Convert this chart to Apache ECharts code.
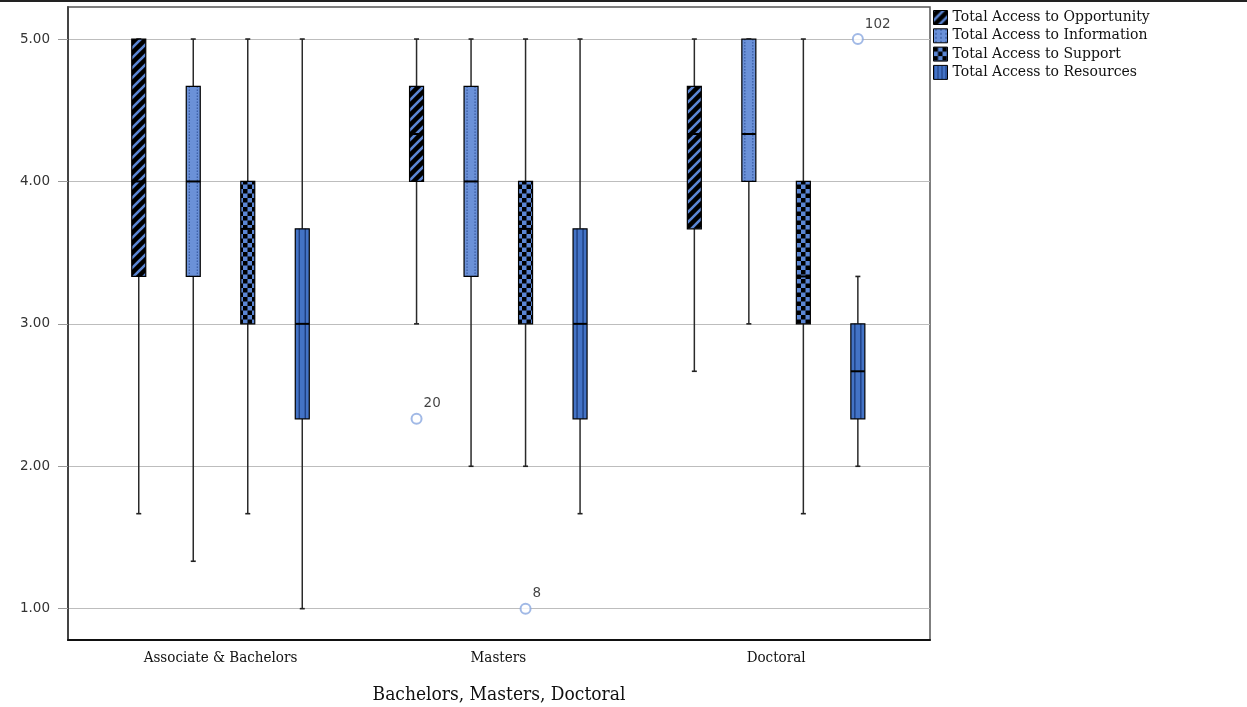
<!DOCTYPE html>
<html>
<head>
<meta charset="utf-8">
<script src="https://cdn.jsdelivr.net/npm/echarts@6/dist/echarts.min.js"></script>
<style>
  html, body { margin: 0; padding: 0; background: #fff; }
  #chart { width: 1247px; height: 707px; }
</style>
</head>
<body>
<div id="chart"></div>
<script>
// Degree groups along the x axis
const categories = ['Associate & Bachelors', 'Masters', 'Doctoral'];
const seriesNames = [
  'Total Access to Opportunity',
  'Total Access to Information',
  'Total Access to Support',
  'Total Access to Resources'
];
const yTicks = [1, 2, 3, 4, 5];

// Five-number summaries per group: [low whisker, Q1, median, Q3, high whisker]
const opportunity = [
  [1.667, 3.333, 4.000, 5.000, 5.000],
  [3.000, 4.000, 4.333, 4.667, 5.000],
  [2.667, 3.667, 4.333, 4.667, 5.000]
];
const information = [
  [1.333, 3.333, 4.000, 4.667, 5.000],
  [2.000, 3.333, 4.000, 4.667, 5.000],
  [3.000, 4.000, 4.333, 5.000, 5.000]
];
const support = [
  [1.667, 3.000, 3.667, 4.000, 5.000],
  [2.000, 3.000, 3.667, 4.000, 5.000],
  [1.667, 3.000, 3.333, 4.000, 5.000]
];
const resources = [
  [1.000, 2.333, 3.000, 3.667, 5.000],
  [1.667, 2.333, 3.000, 3.667, 5.000],
  [2.000, 2.333, 2.667, 3.000, 3.333]
];

// Outlying cases: series index, group index, value, case label
const outlierSeries = [0, 2, 3];
const outlierGroups = [1, 1, 2];
const outlierValues = [2.333, 1.000, 5.000];
const outlierLabels = ['20', '8', '102'];

// ---- fill patterns ----
const BLUE = '#5b86d4';
function makeCanvas(w, h, draw) {
  const c = document.createElement('canvas');
  c.width = w; c.height = h;
  draw(c.getContext('2d'));
  return c;
}
const stripeCanvas = makeCanvas(10, 10, ctx => {
  ctx.fillStyle = '#000'; ctx.fillRect(0, 0, 10, 10);
  ctx.strokeStyle = BLUE; ctx.lineWidth = 2.6;
  ctx.beginPath();
  ctx.moveTo(0, 10); ctx.lineTo(10, 0);
  ctx.moveTo(-2, 2); ctx.lineTo(2, -2);
  ctx.moveTo(8, 12); ctx.lineTo(12, 8);
  ctx.stroke();
});
const checkerCanvas = makeCanvas(9, 9, ctx => {
  ctx.fillStyle = BLUE; ctx.fillRect(0, 0, 9, 9);
  ctx.fillStyle = '#000';
  ctx.fillRect(0, 0, 4.5, 4.5); ctx.fillRect(4.5, 4.5, 4.5, 4.5);
});
const dotLegendCanvas = makeCanvas(5, 4, ctx => {
  ctx.fillStyle = '#6b91d8'; ctx.fillRect(0, 0, 5, 4);
  ctx.fillStyle = '#2d4f95'; ctx.fillRect(2, 0, 1, 2);
});
const lineLegendCanvas = makeCanvas(4, 4, ctx => {
  ctx.fillStyle = '#4373c6'; ctx.fillRect(0, 0, 4, 4);
  ctx.fillStyle = '#1b3a7a'; ctx.fillRect(0, 0, 1, 4);
});

const styles = [
  { fill: { image: stripeCanvas, repeat: 'repeat' }, legendFill: { image: stripeCanvas, repeat: 'repeat' }, inner: null },
  { fill: '#6b91d8', legendFill: { image: dotLegendCanvas, repeat: 'repeat' }, inner: { off: 4, color: '#2d4f95', dash: [1.5, 1.5], width: 1 } },
  { fill: { image: checkerCanvas, repeat: 'repeat' }, legendFill: { image: checkerCanvas, repeat: 'repeat' }, inner: null },
  { fill: '#4373c6', legendFill: { image: lineLegendCanvas, repeat: 'repeat' }, inner: { off: 3, color: '#1b3a7a', dash: null, width: 1.3 } }
];
const allData = [opportunity, information, support, resources];

// Layout within a group, as fractions of one group unit on the x axis
const SLOT_STEP = 0.1962;
const BOX_W = 0.0504;
const CAP_W = 0.018;

function boxRenderer(slot) {
  const st = styles[slot];
  return function (params, api) {
    const g = api.value(0);
    const lo = api.value(1), q1 = api.value(2), med = api.value(3), q3 = api.value(4), hi = api.value(5);
    const unit = api.size([1, 0])[0];
    const cx = api.coord([g, med])[0] + (slot - 1.5) * unit * SLOT_STEP;
    const w = unit * BOX_W;
    const cw = unit * CAP_W;
    const yLo = api.coord([g, lo])[1];
    const yQ1 = api.coord([g, q1])[1];
    const yMed = api.coord([g, med])[1];
    const yQ3 = api.coord([g, q3])[1];
    const yHi = api.coord([g, hi])[1];
    const wStyle = { stroke: '#2a2a2a', lineWidth: 1.5 };
    const children = [
      { type: 'line', shape: { x1: cx, y1: yLo, x2: cx, y2: yQ1 }, style: wStyle },
      { type: 'line', shape: { x1: cx, y1: yQ3, x2: cx, y2: yHi }, style: wStyle },
      { type: 'line', shape: { x1: cx - cw / 2, y1: yLo, x2: cx + cw / 2, y2: yLo }, style: { stroke: '#222', lineWidth: 1.6 } },
      { type: 'line', shape: { x1: cx - cw / 2, y1: yHi, x2: cx + cw / 2, y2: yHi }, style: { stroke: '#222', lineWidth: 1.6 } },
      { type: 'rect', shape: { x: cx - w / 2, y: yQ3, width: w, height: yQ1 - yQ3 }, style: { fill: st.fill, stroke: 'none' } }
    ];
    if (st.inner) {
      [-1, 1].forEach(d => {
        children.push({
          type: 'line',
          shape: { x1: cx + d * st.inner.off, y1: yQ3, x2: cx + d * st.inner.off, y2: yQ1 },
          style: { stroke: st.inner.color, lineWidth: st.inner.width, lineDash: st.inner.dash }
        });
      });
    }
    children.push(
      { type: 'rect', shape: { x: cx - w / 2, y: yQ3, width: w, height: yQ1 - yQ3 }, style: { fill: 'none', stroke: '#000', lineWidth: 1.2 } },
      { type: 'line', shape: { x1: cx - w / 2, y1: yMed, x2: cx + w / 2, y2: yMed }, style: { stroke: '#000', lineWidth: 2 } }
    );
    return { type: 'group', children };
  };
}

const boxSeries = allData.map((rows, slot) => ({
  name: seriesNames[slot],
  type: 'custom',
  renderItem: boxRenderer(slot),
  encode: { x: 0, y: [1, 2, 3, 4, 5] },
  itemStyle: { color: styles[slot].legendFill },
  data: rows.map((r, g) => [g].concat(r)),
  z: 3
}));

const outlierData = outlierValues.map((v, i) => ({
  value: [outlierGroups[i] + (outlierSeries[i] - 1.5) * SLOT_STEP, v],
  label: { formatter: outlierLabels[i] }
}));

const chart = echarts.init(document.getElementById('chart'), null, { renderer: 'canvas' });
chart.setOption({
  animation: false,
  backgroundColor: '#fff',
  grid: {
    show: true, left: 68, top: 7, right: 317, bottom: 67,
    outerBoundsMode: 'none', containLabel: false,
    borderColor: '#555', borderWidth: 1.5, backgroundColor: 'transparent'
  },
  legend: {
    orient: 'vertical', left: 933, top: 10, padding: 0,
    itemWidth: 14, itemHeight: 14, itemGap: 3.3,
    icon: 'rect',
    selectedMode: false,
    textStyle: { fontFamily: 'DejaVu Serif', fontSize: 14, lineHeight: 14, color: '#111' },
    data: seriesNames.map((n, i) => ({
      name: n,
      itemStyle: { color: styles[i].legendFill, borderColor: '#000', borderWidth: 1 }
    }))
  },
  xAxis: {
    type: 'value',
    min: -0.549, max: 2.554,
    splitLine: { show: false },
    axisTick: { show: false },
    axisLine: { show: true, onZero: false, lineStyle: { color: '#111', width: 2 } },
    axisLabel: {
      customValues: [0, 1, 2],
      formatter: v => categories[Math.round(v)],
      fontFamily: 'DejaVu Serif Condensed', fontSize: 15, color: '#111', margin: 11
    },
    name: 'Bachelors, Masters, Doctoral',
    nameLocation: 'middle', nameGap: 46,
    nameTextStyle: { fontFamily: 'DejaVu Serif Condensed', fontSize: 19, color: '#111' }
  },
  yAxis: {
    type: 'value',
    min: 0.78, max: 5.225,
    axisLine: { show: true, onZero: false, lineStyle: { color: '#444', width: 2 } },
    axisTick: { show: true, customValues: yTicks, length: 10, lineStyle: { color: '#999' } },
    axisLabel: {
      customValues: yTicks,
      formatter: v => v.toFixed(2),
      fontFamily: 'DejaVu Sans', fontSize: 13.5, color: '#333', margin: 18
    },
    splitLine: { show: true, lineStyle: { color: '#bdbdbd', width: 1 } }
  },
  series: boxSeries.concat([{
    name: 'outliers',
    type: 'scatter',
    symbol: 'emptyCircle',
    symbolSize: 10,
    itemStyle: { color: '#8aa8e0', borderWidth: 1.5 },
    label: {
      show: true, position: 'right', distance: 1, offset: [0, -15],
      fontFamily: 'DejaVu Sans', fontSize: 13.5, color: '#111'
    },
    data: outlierData,
    z: 5
  }]),
  graphic: [{
    type: 'line', shape: { x1: 0, y1: 1, x2: 1247, y2: 1 },
    style: { stroke: '#222', lineWidth: 2 }
  }]
});
</script>
</body>
</html>
